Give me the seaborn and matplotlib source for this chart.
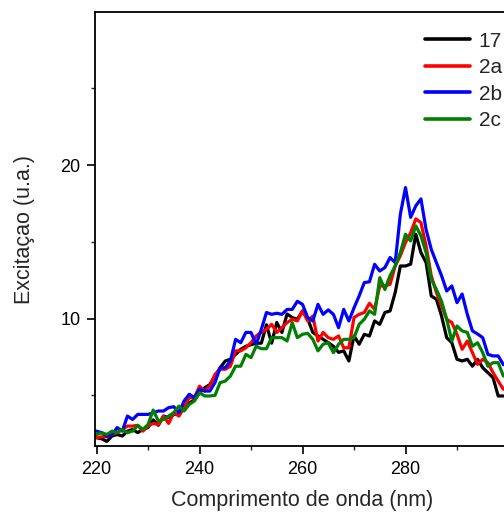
import numpy as np
import pandas as pd
import matplotlib
matplotlib.use("Agg")
import matplotlib.pyplot as plt
import seaborn as sns
from matplotlib.ticker import FixedLocator

wavelength = list(range(220, 300))

s17 = [2.24, 2.17, 2.0, 2.35, 2.45, 2.35, 2.67, 2.78, 2.57, 2.78,
       2.9, 3.4, 3.05, 3.65, 3.55, 3.76, 3.76, 4.2, 4.5, 4.7,
       5.17, 5.5, 5.7, 6.26, 6.8, 7.24, 7.35, 7.67, 8.0, 8.2,
       8.3, 8.4, 8.4, 9.6, 8.4, 9.75, 9.1, 10.3, 10.07, 9.96,
       10.5, 10.0, 9.1, 8.87, 8.65, 8.43, 8.2, 7.8, 7.9, 7.24,
       8.87, 8.33, 8.98, 8.87, 9.85, 9.63, 10.4, 10.5, 11.7, 13.43,
       13.43, 13.55, 15.5, 14.3, 13.65, 11.48, 11.26, 10.17, 8.76, 8.43,
       7.35, 7.24, 7.35, 6.9, 7.35, 6.8, 6.48, 6.15, 4.96, 4.96]

s2a = [2.24, 2.3, 2.3, 2.45, 2.57, 2.78, 3.0, 3.0, 3.05, 2.67,
       3.0, 3.17, 3.1, 3.65, 3.17, 3.87, 3.65, 4.2, 4.85, 4.85,
       5.6, 5.28, 5.6, 6.37, 6.7, 6.7, 6.9, 7.9, 7.9, 8.1,
       8.43, 8.87, 9.1, 9.3, 9.63, 9.1, 9.41, 9.74, 9.96, 9.85,
       10.5, 9.85, 10.17, 8.54, 9.1, 8.76, 8.65, 8.87, 8.1, 8.1,
       10.07, 10.28, 10.4, 11.0, 10.6, 12.13, 12.13, 12.24, 13.43, 14.1,
       14.96, 15.6, 16.5, 16.26, 14.74, 12.8, 11.7, 10.83, 9.96, 9.74,
       8.98, 8.0, 8.54, 7.78, 7.02, 7.35, 7.13, 6.48, 5.93, 5.4]

s2b = [2.67, 2.57, 2.35, 2.45, 2.9, 2.67, 3.65, 3.43, 3.76, 3.76,
       3.76, 3.87, 3.98, 3.98, 4.2, 4.26, 3.87, 4.63, 5.07, 4.85,
       5.4, 5.28, 5.28, 5.83, 6.8, 6.8, 7.24, 8.65, 8.43, 9.1,
       9.1, 8.33, 9.3, 10.4, 10.28, 10.35, 10.28, 10.6, 10.6, 11.13,
       10.93, 10.07, 9.85, 10.93, 10.28, 10.57, 10.28, 9.41, 10.6, 9.85,
       10.7, 11.48, 12.35, 12.4, 13.54, 13.1, 13.33, 13.98, 13.65, 16.8,
       18.54, 16.6, 17.35, 17.8, 15.8, 14.52, 13.65, 12.8, 11.8, 12.13,
       11.04, 11.6, 10.28, 9.2, 9.0, 8.76, 7.67, 7.57, 7.57, 7.0]

s2c = [2.45, 2.57, 2.45, 2.67, 2.57, 2.78, 2.57, 2.67, 3.04, 2.78,
       3.1, 4.04, 3.33, 3.43, 3.65, 3.87, 4.3, 3.98, 4.41, 4.63,
       5.17, 4.96, 4.96, 5.0, 5.83, 5.93, 6.26, 6.9, 6.9, 7.67,
       7.46, 8.2, 8.04, 8.04, 8.76, 8.76, 8.76, 8.54, 9.74, 8.76,
       8.98, 9.04, 8.65, 7.9, 8.33, 8.43, 7.78, 8.33, 8.65, 8.65,
       8.76, 9.63, 9.96, 10.5, 10.28, 12.67, 11.9, 12.8, 13.43, 14.3,
       15.5, 15.06, 16.04, 15.4, 14.3, 12.57, 11.9, 11.13, 9.96, 8.54,
       9.52, 9.2, 9.1, 8.2, 8.43, 7.78, 6.9, 7.13, 7.13, 6.26]

series_names = ["17", "2a", "2b", "2c"]
series_colors = ["#000000", "#ff0000", "#0000ff", "#008000"]

df = pd.concat([
    pd.DataFrame({"x": wavelength, "y": vals, "amostra": name})
    for name, vals in zip(series_names, [s17, s2a, s2b, s2c])
], ignore_index=True)

sns.set_style("ticks")
plt.rcParams["font.family"] = ["Liberation Sans", "DejaVu Sans"]

fig = plt.figure(figsize=(5.04, 5.13), dpi=100)
ax = fig.add_axes([0.1885, 0.1306, 0.8204, 0.846])

sns.lineplot(data=df, x="x", y="y", hue="amostra", hue_order=series_names,
             palette=series_colors, linewidth=2.3, ax=ax, legend=True)

ax.set_xlim(219.7, 300)
ax.set_ylim(1.7, 29.98)
ax.xaxis.set_major_locator(FixedLocator([220, 240, 260, 280]))
ax.xaxis.set_minor_locator(FixedLocator([230, 250, 270, 290]))
ax.yaxis.set_major_locator(FixedLocator([10, 20]))
ax.yaxis.set_minor_locator(FixedLocator([5, 15, 25]))
ax.tick_params(which="major", direction="out", length=5.5, width=1.2,
               labelsize=13, colors="#000000", pad=5)
ax.tick_params(which="minor", direction="out", length=3, width=1.0)
for sp in ax.spines.values():
    sp.set_linewidth(1.3)
    sp.set_color("#000000")

ax.set_xlabel("Comprimento de onda (nm)", fontsize=15.5, labelpad=9)
ax.set_ylabel("Excitaçao (u.a.)", fontsize=15.5, labelpad=18)

leg = ax.legend(loc="upper left", bbox_to_anchor=(0.797, 0.955), frameon=False,
                fontsize=15, handlelength=2.2, handletextpad=0.4,
                labelspacing=0.36, borderaxespad=0, borderpad=0)
for line in leg.get_lines():
    line.set_linewidth(2.6)

fig.savefig("out.png", dpi=100)
